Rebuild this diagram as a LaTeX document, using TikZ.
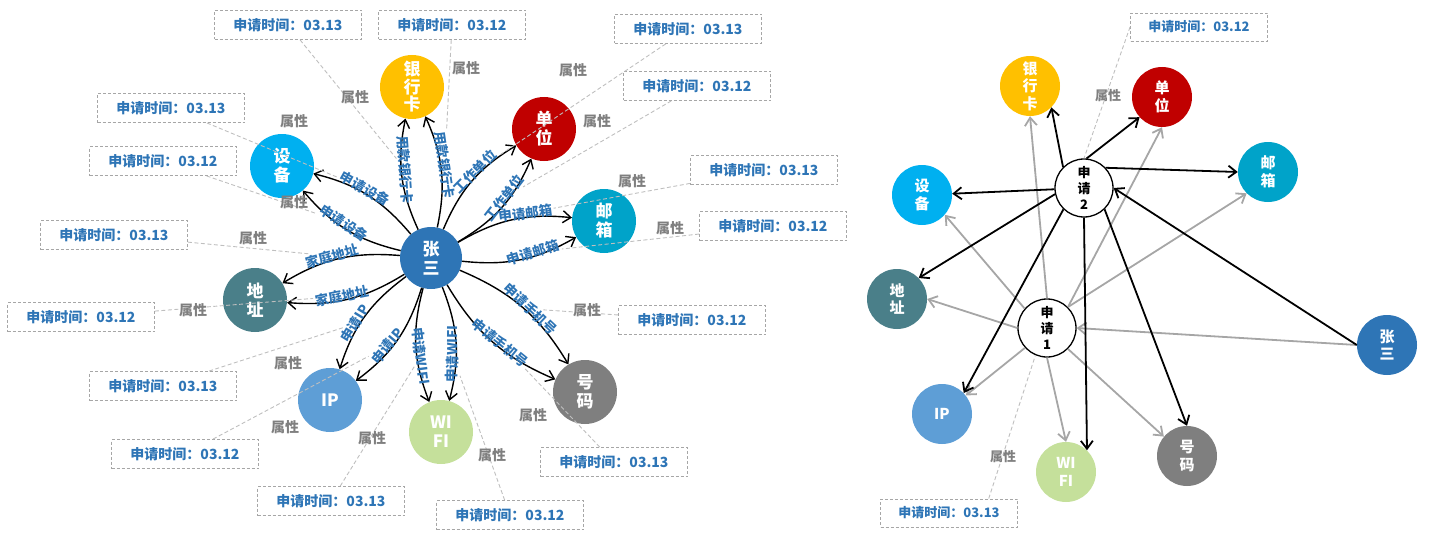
\documentclass[tikz,border=0pt]{standalone}
\usepackage{fontspec}
\setmainfont{Noto Sans CJK SC}
\usetikzlibrary{arrows.meta}
\definecolor{cZS}{HTML}{2E75B6}
\definecolor{cYHK}{HTML}{FFC000}
\definecolor{cDW}{HTML}{C00000}
\definecolor{cSB}{HTML}{00B0F0}
\definecolor{cYX}{HTML}{00A3C9}
\definecolor{cDZ}{HTML}{4A7F89}
\definecolor{cHM}{HTML}{7F7F7F}
\definecolor{cWF}{HTML}{C5E09B}
\definecolor{cIP}{HTML}{5E9ED6}
\definecolor{cTxt}{HTML}{2E75B6}
\definecolor{cAttr}{HTML}{7F7F7F}
\definecolor{cBox}{HTML}{A6A6A6}
\definecolor{cDash}{HTML}{BFBFBF}
\definecolor{cGrayArr}{HTML}{A6A6A6}
\begin{document}
\begin{tikzpicture}[x=1pt,y=-1pt,
  lnode/.style={circle,inner sep=0pt,minimum size=64pt,text=white,align=center,font=\bfseries\fontsize{17}{19}\selectfont},
  rnode/.style={circle,inner sep=0pt,minimum size=60pt,text=white,align=center,font=\bfseries\fontsize{15}{17.5}\selectfont},
  reqnode/.style={circle,draw=black,line width=1.3pt,fill=white,inner sep=0pt,minimum size=58pt,align=center,font=\bfseries\fontsize{13}{16}\selectfont},
  tbox/.style={draw=cBox,dash pattern=on 3pt off 2pt,line width=0.9pt,minimum width=147pt,minimum height=29pt,inner sep=0pt,text=cTxt,font=\bfseries\fontsize{14}{16}\selectfont},
  rbox/.style={tbox,minimum width=137pt,minimum height=28pt,font=\bfseries\fontsize{13}{15}\selectfont},
  attr/.style={text=cAttr,inner sep=0pt,font=\bfseries\fontsize{14}{16}\selectfont},
  rattr/.style={attr,font=\bfseries\fontsize{13}{15}\selectfont},
  elab/.style={text=cTxt,inner sep=1pt,pos=0.55,sloped,above=-4pt,font=\bfseries\fontsize{13.5}{15}\selectfont},
  arr/.style={draw=black,line width=1.4pt,-{Straight Barb[length=8pt,width=12pt]}},
  garr/.style={draw=cGrayArr,line width=1.8pt,-{Straight Barb[length=8pt,width=12pt]}},
  barr/.style={draw=black,line width=1.8pt,-{Straight Barb[length=8pt,width=12pt]}},
  dline/.style={draw=cDash,line width=0.9pt,dash pattern=on 4pt off 2.5pt},
]
\useasboundingbox (0,0) rectangle (1444,551);

% ---------- left diagram nodes ----------
\node[lnode,fill=cZS,minimum size=62pt] (zs) at (431,258) {张\\三};
\node[lnode,fill=cYHK,font=\bfseries\fontsize{17}{17.5}\selectfont] (yhk) at (412,87) {银\\行\\卡};
\node[lnode,fill=cDW] (dw) at (544,129) {单\\位};
\node[lnode,fill=cSB] (sb) at (282,166) {设\\备};
\node[lnode,fill=cDZ] (dz) at (255,300) {地\\址};
\node[lnode,fill=cYX] (yx) at (604,221) {邮\\箱};
\node[lnode,fill=cHM] (hm) at (585,392) {号\\码};
\node[lnode,fill=cWF] (wf) at (441,432) {WI\\FI};
\node[lnode,fill=cIP] (ip) at (330,400) {IP};

% ---------- left diagram edges ----------
\draw[arr] (zs) to[bend left=18] node[elab] (l1a) {用款银行卡} (yhk);
\draw[arr] (zs) to[bend right=18] node[elab] (l1b) {用款银行卡} (yhk);
\draw[arr] (zs) to[bend left=18] node[elab,pos=0.58] (l2a) {工作单位} (dw);
\draw[arr] (zs) to[bend right=18] node[elab,pos=0.58] (l2b) {工作单位} (dw);
\draw[arr] (zs) to[bend left=18] node[elab,pos=0.62] (l3a) {申请邮箱} (yx);
\draw[arr] (zs) to[bend right=18] node[elab,pos=0.62] (l3b) {申请邮箱} (yx);
\draw[arr] (zs) to[bend left=18] node[elab] (l4a) {申请手机号} (hm);
\draw[arr] (zs) to[bend right=18] node[elab] (l4b) {申请手机号} (hm);
\draw[arr] (zs) to[bend left=18] node[elab,pos=0.6] (l5a) {申请WIFI} (wf);
\draw[arr] (zs) to[bend right=18] node[elab,pos=0.6] (l5b) {申请WIFI} (wf);
\draw[arr] (zs) to[bend left=18] node[elab,pos=0.6] (l6a) {申请IP} (ip);
\draw[arr] (zs) to[bend right=18] node[elab,pos=0.6] (l6b) {申请IP} (ip);
\draw[arr] (zs) to[bend left=18] node[elab] (l7a) {家庭地址} (dz);
\draw[arr] (zs) to[bend right=18] node[elab] (l7b) {家庭地址} (dz);
\draw[arr] (zs) to[bend left=18] node[elab] (l8a) {申请设备} (sb);
\draw[arr] (zs) to[bend right=18] node[elab] (l8b) {申请设备} (sb);

% ---------- left diagram boxes ----------
\node[tbox] (b1) at (288,25) {申请时间：03.13};
\node[tbox] (b2) at (452,25) {申请时间：03.12};
\node[tbox] (b3) at (688,29) {申请时间：03.13};
\node[tbox] (b4) at (697,86) {申请时间：03.12};
\node[tbox] (b5) at (764,170) {申请时间：03.13};
\node[tbox] (b6) at (773,226) {申请时间：03.12};
\node[tbox] (b7) at (692,320) {申请时间：03.12};
\node[tbox] (b8) at (614,462) {申请时间：03.13};
\node[tbox] (b9) at (510,515) {申请时间：03.12};
\node[tbox] (b10) at (331,501) {申请时间：03.13};
\node[tbox] (b11) at (185,454) {申请时间：03.12};
\node[tbox] (b12) at (163,386) {申请时间：03.13};
\node[tbox] (b13) at (81,317) {申请时间：03.12};
\node[tbox] (b14) at (114,235) {申请时间：03.13};
\node[tbox] (b15) at (163,161) {申请时间：03.12};
\node[tbox] (b16) at (171,108) {申请时间：03.13};

\draw[dline] (b1) -- (l1a);
\draw[dline] (b2) -- (l1b);
\draw[dline] (b3) -- (l2a);
\draw[dline] (b4) -- (l2b);
\draw[dline] (b5) -- (l3a);
\draw[dline] (b6) -- (l3b);
\draw[dline] (b7) -- (l4a);
\draw[dline] (b8) -- (l4b);
\draw[dline] (b9) -- (l5a);
\draw[dline] (b10) -- (l5b);
\draw[dline] (b11) -- (l6a);
\draw[dline] (b12) -- (l6b);
\draw[dline] (b13) -- (l7a);
\draw[dline] (b14) -- (l7b);
\draw[dline] (b15) -- (l8a);
\draw[dline] (b16) -- (l8b);

\node[attr] (p1) at (355,97) {属性};
\node[attr] (p2) at (466,68) {属性};
\node[attr] (p3) at (573,70) {属性};
\node[attr] (p4) at (597,121) {属性};
\node[attr] (p5) at (632,181) {属性};
\node[attr] (p6) at (670,228) {属性};
\node[attr] (p7) at (587,310) {属性};
\node[attr] (p8) at (533,415) {属性};
\node[attr] (p9) at (492,455) {属性};
\node[attr] (p10) at (372,438) {属性};
\node[attr] (p11) at (285,427) {属性};
\node[attr] (p12) at (288,363) {属性};
\node[attr] (p13) at (193,310) {属性};
\node[attr] (p14) at (253,238) {属性};
\node[attr] (p15) at (294,202) {属性};
\node[attr] (p16) at (294,121) {属性};

% ---------- right diagram nodes ----------
\node[rnode,fill=cYHK] (yhk2) at (1030,86) {银\\行\\卡};
\node[rnode,fill=cDW] (dw2) at (1162,97) {单\\位};
\node[rnode,fill=cYX] (yx2) at (1268,172) {邮\\箱};
\node[rnode,fill=cSB] (sb2) at (922,195) {设\\备};
\node[rnode,fill=cDZ] (dz2) at (897,299) {地\\址};
\node[rnode,fill=cIP] (ip2) at (942,414) {IP};
\node[rnode,fill=cWF] (wf2) at (1066,472) {WI\\FI};
\node[rnode,fill=cHM] (hm2) at (1187,456) {号\\码};
\node[rnode,fill=cZS] (zs2) at (1387,345) {张\\三};
\node[reqnode] (s2) at (1084,188) {申\\请\\2};
\node[reqnode] (s1) at (1047,328) {申\\请\\1};

% gray edges (申请1)
\draw[garr] (s1.north) -- (yhk2.south);
\draw[garr] (s1.45) -- (dw2.south);
\draw[garr] (s1.45) -- (yx2.225);
\draw[garr] (s1.139) -- (sb2.-41);
\draw[garr] (s1.west) -- (dz2.east);
\draw[garr] (s1.222) -- (ip2.38);
\draw[garr] (s1.south) -- (wf2.north);
\draw[garr] (s1.315) -- (hm2.140);
\draw[garr] (zs2.west) -- (s1.east);

% black edges (申请2)
\draw[barr] (s2.135) -- (yhk2.-45);
\draw[barr] (s2.85) -- (dw2.222);
\draw[barr] (s2.43) -- (yx2.west);
\draw[barr] (s2) -- (sb2);
\draw[barr] (s2.192) -- (dz2.44);
\draw[barr] (s2.226) -- (ip2.44);
\draw[barr] (s2.south) -- (wf2.46);
\draw[barr] (s2.314) -- (hm2.north);
\draw[barr] (zs2.west) -- (s2.east);

% boxes right
\node[rbox] (r1) at (1199,27) {申请时间：03.12};
\node[rbox] (r2) at (949,513) {申请时间：03.13};
\draw[dline] (r1.west) -- (s2.north);
\draw[dline] (r2.20) -- (s1.247);
\node[rattr] (p17) at (1108,96) {属性};
\node[rattr] (p18) at (1003,457) {属性};
\end{tikzpicture}
\end{document}
